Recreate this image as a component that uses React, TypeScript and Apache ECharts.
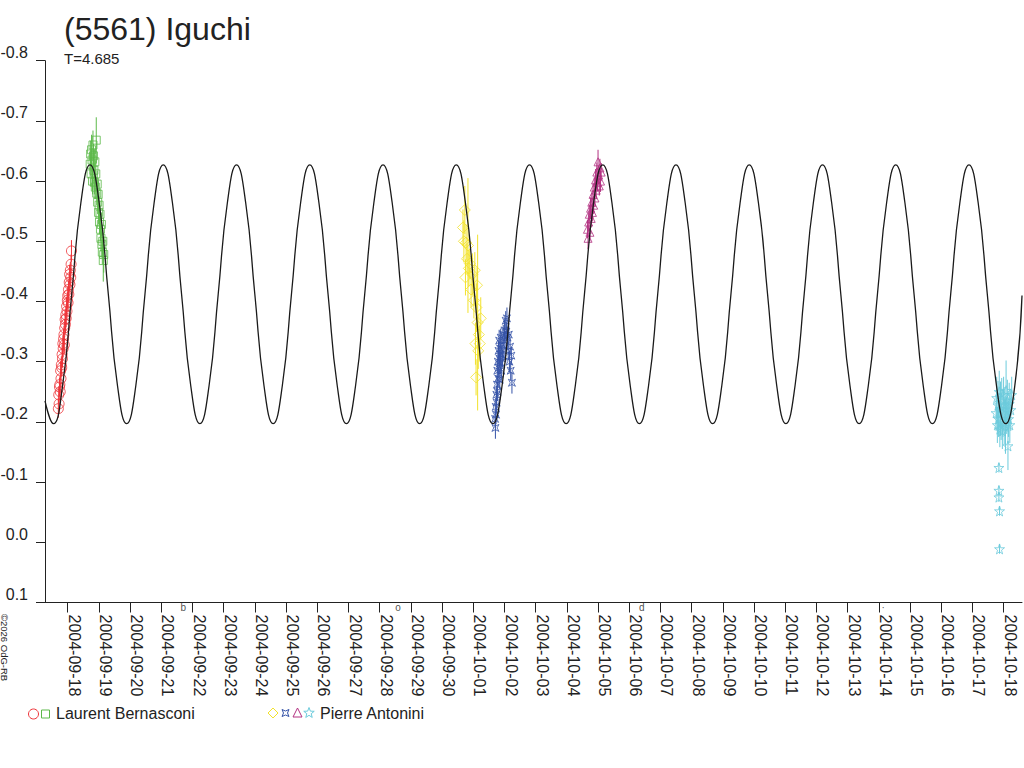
import React, { useEffect, useRef } from "react";
import * as echarts from "echarts";

// ---------- axis data ----------
// x values are days counted from 2004-09-17 00:00 UT
const X_MIN = 0.272;
const X_MAX = 31.59;
const Y_MIN = -0.8;
const Y_MAX = 0.1;
const Y_STEP = 0.1;
const LABEL_SHIFT = 0.21; // label drawn just right of its tick

const tickDays = [1, 2, 3, 4, 5, 6, 7, 8, 9, 10, 11, 12, 13, 14, 15, 16, 17, 18, 19, 20, 21, 22, 23, 24, 25, 26, 27, 28, 29, 30, 31];
const tickLabels = [
  "2004-09-18", "2004-09-19", "2004-09-20", "2004-09-21", "2004-09-22", "2004-09-23", "2004-09-24",
  "2004-09-25", "2004-09-26", "2004-09-27", "2004-09-28", "2004-09-29", "2004-09-30", "2004-10-01",
  "2004-10-02", "2004-10-03", "2004-10-04", "2004-10-05", "2004-10-06", "2004-10-07", "2004-10-08",
  "2004-10-09", "2004-10-10", "2004-10-11", "2004-10-12", "2004-10-13", "2004-10-14", "2004-10-15",
  "2004-10-16", "2004-10-17", "2004-10-18",
];

// moon phases (first quarter, full, last quarter, new)
const moonDays = [4.705, 11.59, 19.4, 27.14];
const moonGlyphs = ["b", "o", "d", "·"];

// ---------- observations [day, mag, error] ----------
const bernasconiA = [
  [0.700, -0.222, 0.015], [0.712, -0.245, 0.014], [0.724, -0.230, 0.016], [0.736, -0.258, 0.015],
  [0.748, -0.262, 0.014], [0.760, -0.250, 0.015], [0.772, -0.285, 0.016], [0.784, -0.272, 0.015],
  [0.796, -0.295, 0.014], [0.808, -0.290, 0.015], [0.820, -0.312, 0.016], [0.832, -0.305, 0.015],
  [0.844, -0.330, 0.014], [0.856, -0.322, 0.015], [0.868, -0.338, 0.016], [0.880, -0.345, 0.015],
  [0.892, -0.328, 0.014], [0.904, -0.356, 0.015], [0.916, -0.370, 0.016], [0.928, -0.362, 0.015],
  [0.940, -0.378, 0.014], [0.952, -0.372, 0.015], [0.964, -0.392, 0.016], [0.976, -0.384, 0.015],
  [0.988, -0.402, 0.014], [1.000, -0.410, 0.015], [1.012, -0.398, 0.016], [1.024, -0.420, 0.015],
  [1.036, -0.412, 0.014], [1.048, -0.432, 0.015], [1.060, -0.445, 0.016], [1.072, -0.428, 0.015],
  [1.084, -0.452, 0.014], [1.096, -0.440, 0.015], [1.108, -0.462, 0.016], [1.120, -0.484, 0.018],
];

const bernasconiB = [
  [1.720, -0.628, 0.020], [1.735, -0.645, 0.022], [1.750, -0.612, 0.020], [1.765, -0.652, 0.025],
  [1.780, -0.635, 0.020], [1.795, -0.600, 0.022], [1.810, -0.660, 0.024], [1.825, -0.642, 0.020],
  [1.840, -0.618, 0.022], [1.855, -0.598, 0.020], [1.870, -0.632, 0.022], [1.885, -0.590, 0.020],
  [1.900, -0.612, 0.022], [1.915, -0.668, 0.038], [1.930, -0.580, 0.020], [1.945, -0.595, 0.022],
  [1.960, -0.565, 0.020], [1.975, -0.578, 0.022], [1.990, -0.548, 0.020], [2.005, -0.560, 0.022],
  [2.020, -0.532, 0.020], [2.035, -0.545, 0.022], [2.050, -0.520, 0.020], [2.065, -0.505, 0.022],
  [2.080, -0.528, 0.020], [2.095, -0.495, 0.022], [2.110, -0.482, 0.020], [2.125, -0.500, 0.022],
  [2.140, -0.468, 0.035], [2.155, -0.478, 0.030],
];

const antoniniA = [
  [13.67, -0.523, 0.030], [13.70, -0.500, 0.035], [13.73, -0.552, 0.040], [13.75, -0.440, 0.030],
  [13.77, -0.498, 0.030], [13.80, -0.471, 0.025], [13.83, -0.493, 0.112], [13.86, -0.455, 0.030],
  [13.89, -0.463, 0.025], [13.93, -0.420, 0.030], [13.97, -0.445, 0.035], [14.02, -0.402, 0.030],
  [14.05, -0.452, 0.030], [14.07, -0.330, 0.035], [14.09, -0.274, 0.030], [14.10, -0.390, 0.040],
  [14.12, -0.427, 0.030], [14.14, -0.365, 0.146], [14.16, -0.318, 0.030], [14.18, -0.345, 0.035],
  [14.21, -0.330, 0.030], [14.24, -0.372, 0.035],
];

const antoniniB = [
  [14.70, -0.205, 0.015], [14.71, -0.190, 0.018], [14.72, -0.225, 0.015], [14.73, -0.212, 0.016],
  [14.74, -0.245, 0.015], [14.75, -0.232, 0.018], [14.76, -0.262, 0.015], [14.77, -0.285, 0.016],
  [14.78, -0.250, 0.015], [14.79, -0.300, 0.018], [14.80, -0.272, 0.015], [14.81, -0.318, 0.016],
  [14.82, -0.290, 0.015], [14.83, -0.335, 0.018], [14.84, -0.305, 0.015], [14.85, -0.270, 0.016],
  [14.86, -0.322, 0.015], [14.87, -0.298, 0.018], [14.88, -0.340, 0.015], [14.89, -0.312, 0.016],
  [14.90, -0.285, 0.015], [14.92, -0.328, 0.018], [14.94, -0.305, 0.015], [14.96, -0.345, 0.016],
  [14.98, -0.318, 0.015], [15.00, -0.352, 0.018], [15.02, -0.335, 0.015], [15.04, -0.368, 0.016],
  [15.06, -0.350, 0.015], [15.08, -0.372, 0.018], [15.10, -0.340, 0.015], [15.12, -0.318, 0.016],
  [15.14, -0.345, 0.015], [15.16, -0.300, 0.018], [15.18, -0.325, 0.015], [15.20, -0.285, 0.016],
  [15.22, -0.310, 0.015], [15.24, -0.265, 0.018],
];

const antoniniC = [
  [17.66, -0.520, 0.015], [17.68, -0.505, 0.018], [17.70, -0.532, 0.015], [17.72, -0.545, 0.016],
  [17.74, -0.515, 0.015], [17.76, -0.555, 0.018], [17.78, -0.538, 0.015], [17.80, -0.565, 0.016],
  [17.82, -0.548, 0.015], [17.84, -0.578, 0.018], [17.86, -0.560, 0.015], [17.88, -0.590, 0.016],
  [17.90, -0.572, 0.015], [17.92, -0.602, 0.018], [17.94, -0.585, 0.015], [17.96, -0.615, 0.016],
  [17.98, -0.598, 0.015], [18.00, -0.632, 0.020], [18.02, -0.610, 0.015], [18.04, -0.592, 0.016],
  [18.06, -0.622, 0.015], [18.08, -0.600, 0.018], [18.10, -0.615, 0.015],
];

const antoniniD = [
  [30.76, -0.215, 0.030], [30.78, -0.240, 0.035], [30.80, -0.195, 0.030], [30.82, -0.228, 0.040],
  [30.84, -0.205, 0.030], [30.85, -0.124, 0.008], [30.85, -0.086, 0.008], [30.85, -0.075, 0.008],
  [30.86, -0.250, 0.035], [30.87, -0.052, 0.008], [30.87, 0.011, 0.008], [30.88, -0.188, 0.030],
  [30.90, -0.222, 0.045], [30.92, -0.200, 0.030], [30.94, -0.238, 0.035], [30.96, -0.185, 0.030],
  [30.98, -0.215, 0.040], [31.00, -0.245, 0.030], [31.02, -0.198, 0.035], [31.04, -0.228, 0.030],
  [31.06, -0.192, 0.045], [31.08, -0.252, 0.050], [31.10, -0.210, 0.030], [31.12, -0.235, 0.035],
  [31.14, -0.160, 0.040], [31.16, -0.205, 0.030], [31.18, -0.230, 0.035], [31.20, -0.195, 0.030],
  [31.23, -0.220, 0.035], [31.26, -0.245, 0.030],
];

// ---------- fitted curve [day, mag] ----------
const fitCurve = [
  [0.272, -0.235],
  [0.541, -0.197], [0.835, -0.260], [1.128, -0.412], [1.422, -0.564], [1.715, -0.627], [2.009, -0.564], [2.302, -0.412], [2.596, -0.260],
  [2.889, -0.197], [3.183, -0.260], [3.476, -0.412], [3.770, -0.564], [4.063, -0.627], [4.357, -0.564], [4.650, -0.412], [4.944, -0.260],
  [5.237, -0.197], [5.531, -0.260], [5.824, -0.412], [6.118, -0.564], [6.411, -0.627], [6.705, -0.564], [6.998, -0.412], [7.292, -0.260],
  [7.585, -0.197], [7.879, -0.260], [8.172, -0.412], [8.466, -0.564], [8.759, -0.627], [9.053, -0.564], [9.346, -0.412], [9.640, -0.260],
  [9.933, -0.197], [10.227, -0.260], [10.520, -0.412], [10.814, -0.564], [11.107, -0.627], [11.401, -0.564], [11.694, -0.412], [11.988, -0.260],
  [12.281, -0.197], [12.575, -0.260], [12.868, -0.412], [13.162, -0.564], [13.455, -0.627], [13.749, -0.564], [14.042, -0.412], [14.336, -0.260],
  [14.629, -0.197], [14.923, -0.260], [15.216, -0.412], [15.510, -0.564], [15.803, -0.627], [16.097, -0.564], [16.390, -0.412], [16.684, -0.260],
  [16.977, -0.197], [17.271, -0.260], [17.564, -0.412], [17.858, -0.564], [18.151, -0.627], [18.445, -0.564], [18.738, -0.412], [19.032, -0.260],
  [19.325, -0.197], [19.619, -0.260], [19.912, -0.412], [20.206, -0.564], [20.499, -0.627], [20.793, -0.564], [21.086, -0.412], [21.380, -0.260],
  [21.673, -0.197], [21.967, -0.260], [22.260, -0.412], [22.554, -0.564], [22.847, -0.627], [23.141, -0.564], [23.434, -0.412], [23.728, -0.260],
  [24.021, -0.197], [24.315, -0.260], [24.608, -0.412], [24.902, -0.564], [25.195, -0.627], [25.489, -0.564], [25.782, -0.412], [26.076, -0.260],
  [26.369, -0.197], [26.663, -0.260], [26.956, -0.412], [27.250, -0.564], [27.543, -0.627], [27.837, -0.564], [28.130, -0.412], [28.424, -0.260],
  [28.717, -0.197], [29.011, -0.260], [29.304, -0.412], [29.598, -0.564], [29.891, -0.627], [30.185, -0.564], [30.478, -0.412], [30.772, -0.260],
  [31.065, -0.197], [31.359, -0.260],
  [31.590, -0.410],
];

// ---------- styling ----------
const FONT = "'Liberation Sans', Arial, sans-serif";
const TEXT = "#222";
const RED = "#ee3338";
const GREEN = "#5cb94a";
const YELLOW = "#f2e22c";
const BLUE = "#3553a8";
const MAGENTA = "#b33282";
const CYAN = "#6ccbdc";

const STAR = "path://M50,0 L61.8,35.4 L98.1,34.5 L68.9,56.6 L79.4,90.5 L50,70 L20.6,90.5 L31.1,56.6 L1.9,34.5 L38.2,35.4 Z";
const CONCAVE = "path://M0,0 L5,2.6 L10,0 L7.4,5 L10,10 L5,7.4 L0,10 L2.6,5 Z";

const groups = [
  { name: "Laurent Bernasconi 1", data: bernasconiA, color: RED, symbol: "circle", size: 10 },
  { name: "Laurent Bernasconi 2", data: bernasconiB, color: GREEN, symbol: "rect", size: 8 },
  { name: "Pierre Antonini 1", data: antoniniA, color: YELLOW, symbol: "diamond", size: 11 },
  { name: "Pierre Antonini 2", data: antoniniB, color: BLUE, symbol: CONCAVE, size: 7 },
  { name: "Pierre Antonini 3", data: antoniniC, color: MAGENTA, symbol: "triangle", size: 8 },
  { name: "Pierre Antonini 4", data: antoniniD, color: CYAN, symbol: STAR, size: 10 },
];

function buildOption() {
  const series: any[] = [];
  groups.forEach((g) => {
    series.push({
      type: "custom",
      name: g.name + " err",
      data: g.data,
      encode: { x: 0, y: 1 },
      z: 2,
      silent: true,
      renderItem: (params: any, api: any) => {
        const x = api.value(0);
        const y = api.value(1);
        const e = api.value(2);
        const p1 = api.coord([x, y - e]);
        const p2 = api.coord([x, y + e]);
        return {
          type: "line",
          shape: { x1: p1[0], y1: p1[1], x2: p2[0], y2: p2[1] },
          style: { stroke: g.color, lineWidth: 1 },
        };
      },
    });
    series.push({
      type: "scatter",
      name: g.name,
      data: g.data,
      encode: { x: 0, y: 1 },
      symbol: g.symbol,
      symbolSize: g.size,
      z: 3,
      silent: true,
      itemStyle: { color: "rgba(0,0,0,0)", borderColor: g.color, borderWidth: 1 },
    });
  });

  series.push({
    type: "line",
    name: "fit",
    data: fitCurve,
    showSymbol: false,
    smooth: true,
    z: 5,
    silent: true,
    lineStyle: { color: "#1a1a1a", width: 1.3 },
  });

  series.push({
    type: "scatter",
    name: "moon",
    data: moonDays.map((d) => [d, Y_MAX]),
    symbolSize: 0,
    clip: false,
    silent: true,
    z: 6,
    label: {
      show: true,
      position: "bottom",
      distance: 0,
      color: TEXT,
      fontSize: 10,
      fontFamily: FONT,
      formatter: (p: any) => moonGlyphs[p.dataIndex],
    },
  });

  const legendY = 713;
  const graphic: any[] = [
    {
      type: "text", x: 64, y: 13,
      style: { text: "(5561) Iguchi", fontSize: 32, fontFamily: FONT, fill: TEXT, align: "left", verticalAlign: "top" },
    },
    {
      type: "text", x: 64, y: 51,
      style: { text: "T=4.685", fontSize: 15, fontFamily: FONT, fill: TEXT, align: "left", verticalAlign: "top" },
    },
    {
      type: "text", x: 4.5, y: 614, rotation: -Math.PI / 2,
      style: { text: "©2026 OdG-RB", fontSize: 9.5, fontFamily: FONT, fill: TEXT, align: "left", verticalAlign: "middle" },
    },
    // legend entry 1
    { type: "circle", shape: { cx: 33.5, cy: legendY + 1, r: 5 }, style: { fill: "none", stroke: RED, lineWidth: 1 } },
    { type: "rect", shape: { x: 41.5, y: legendY - 3, width: 8, height: 8 }, style: { fill: "none", stroke: GREEN, lineWidth: 1 } },
    {
      type: "text", x: 56, y: legendY,
      style: { text: "Laurent Bernasconi", fontSize: 16, fontFamily: FONT, fill: TEXT, align: "left", verticalAlign: "middle" },
    },
    // legend entry 2
    { type: "polygon", shape: { points: [[273, 708], [278, 713], [273, 718], [268, 713]] }, style: { fill: "none", stroke: YELLOW, lineWidth: 1 } },
    {
      type: "polygon",
      shape: { points: [[282, 709.5], [285.5, 711], [289, 709.5], [287.5, 713], [289, 716.5], [285.5, 715], [282, 716.5], [283.5, 713]] },
      style: { fill: "none", stroke: BLUE, lineWidth: 1 },
    },
    { type: "polygon", shape: { points: [[297.5, 708], [302, 717], [293, 717]] }, style: { fill: "none", stroke: MAGENTA, lineWidth: 1 } },
    {
      type: "polygon",
      shape: {
        points: [[309, 707.5], [310.35, 711.14], [314.23, 711.3], [311.19, 713.71], [312.23, 717.45], [309, 715.3], [305.77, 717.45], [306.81, 713.71], [303.77, 711.3], [307.65, 711.14]],
      },
      style: { fill: "none", stroke: CYAN, lineWidth: 1 },
    },
    {
      type: "text", x: 320, y: legendY,
      style: { text: "Pierre Antonini", fontSize: 16, fontFamily: FONT, fill: TEXT, align: "left", verticalAlign: "middle" },
    },
  ];

  return {
    animation: false,
    backgroundColor: "#ffffff",
    textStyle: { fontFamily: FONT },
    grid: { left: 45, right: 2, top: 60.7, bottom: 165.5, containLabel: false, outerBoundsMode: "none" },
    xAxis: {
      type: "value",
      min: X_MIN,
      max: X_MAX,
      splitLine: { show: false },
      axisLine: { show: true, onZero: false, lineStyle: { color: TEXT, width: 1 } },
      axisTick: { show: true, length: 10, lineStyle: { color: TEXT }, customValues: tickDays },
      axisLabel: {
        show: true,
        rotate: -90,
        margin: 12,
        fontSize: 16,
        color: TEXT,
        fontFamily: FONT,
        interval: 0,
        customValues: tickDays.map((d) => d + LABEL_SHIFT),
        formatter: (v: number) => {
          const i = Math.round(v - LABEL_SHIFT) - tickDays[0];
          return tickLabels[i] ?? "";
        },
      },
    },
    yAxis: {
      type: "value",
      inverse: true,
      min: Y_MIN,
      max: Y_MAX,
      interval: Y_STEP,
      splitLine: { show: false },
      axisLine: { show: true, onZero: false, lineStyle: { color: TEXT, width: 1 } },
      axisTick: { show: true, length: 9, lineStyle: { color: TEXT } },
      axisLabel: {
        show: true,
        margin: 17,
        fontSize: 16,
        color: TEXT,
        fontFamily: FONT,
        verticalAlign: "bottom",
        showMinLabel: true,
        showMaxLabel: true,
        formatter: (v: number) => (Math.abs(v) < 1e-9 ? "0.0" : v.toFixed(1)),
      },
    },
    graphic,
    series,
  };
}

export default function App() {
  const ref = useRef<HTMLDivElement>(null);
  useEffect(() => {
    if (!ref.current) return;
    const chart = echarts.init(ref.current, null, { renderer: "svg" });
    chart.setOption(buildOption() as any);
    return () => chart.dispose();
  }, []);
  return (
    <div
      ref={ref}
      style={{ position: "absolute", left: 0, top: 0, width: 1024, height: 768, background: "#fff" }}
    />
  );
}
